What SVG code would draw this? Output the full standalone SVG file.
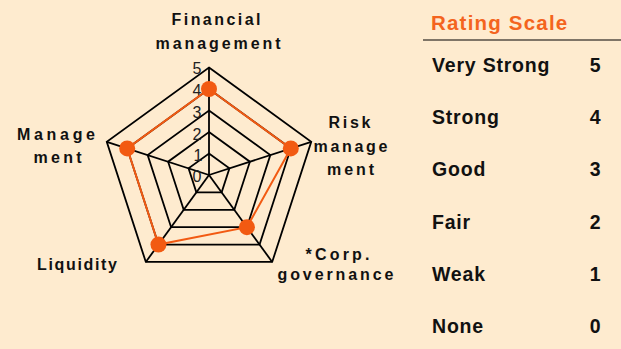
<svg xmlns="http://www.w3.org/2000/svg" width="621" height="349" viewBox="0 0 621 349">
<style>
.grid{fill:none;stroke:#000;stroke-width:1.8;stroke-linejoin:miter}
.axis{stroke:#000;stroke-width:1.8}
.data{fill:none;stroke:#F25A12;stroke-width:2}
.dot{fill:#F25A12}
.lbl{font-family:"Liberation Sans",Arial,sans-serif;font-weight:bold;font-size:16px;fill:#111;text-anchor:middle}
.tick{font-family:"Liberation Sans",Arial,sans-serif;font-size:16px;fill:#222;text-anchor:end}
.title{font-family:"Liberation Sans",Arial,sans-serif;font-weight:bold;font-size:20.5px;fill:#F4641E;letter-spacing:1.2px}
.row{font-family:"Liberation Sans",Arial,sans-serif;font-weight:bold;font-size:19.5px;fill:#111;letter-spacing:0.8px}
.num{font-family:"Liberation Sans",Arial,sans-serif;font-weight:bold;font-size:19.5px;fill:#111;text-anchor:end}
</style>
<rect width="621" height="349" fill="#FEEBCF"/>
<g id="grid">
<polygon class="grid" points="209,153.5 229.45,168.36 221.64,192.39 196.36,192.39 188.55,168.36"/>
<polygon class="grid" points="209,132 249.9,161.71 234.28,209.79 183.72,209.79 168.1,161.71"/>
<polygon class="grid" points="209,110.5 270.34,155.07 246.91,227.18 171.09,227.18 147.66,155.07"/>
<polygon class="grid" points="209,89 290.79,148.42 259.55,244.58 158.45,244.58 127.21,148.42"/>
<polygon class="grid" points="209,67.5 311.24,141.78 272.19,261.97 145.81,261.97 106.76,141.78"/>
<line class="axis" x1="209" y1="175" x2="209" y2="67.5"/>
<line class="axis" x1="209" y1="175" x2="311.24" y2="141.78"/>
<line class="axis" x1="209" y1="175" x2="272.19" y2="261.97"/>
<line class="axis" x1="209" y1="175" x2="145.81" y2="261.97"/>
<line class="axis" x1="209" y1="175" x2="106.76" y2="141.78"/>
</g>
<g id="ticks">
<text class="tick" x="201.5" y="74">5</text>
<text class="tick" x="201.5" y="95.5">4</text>
<text class="tick" x="201.5" y="117.5">3</text>
<text class="tick" x="201.5" y="139.5">2</text>
<text class="tick" x="202.5" y="161">1</text>
<text class="tick" x="201.5" y="181.5">0</text>
</g>
<g id="connectors">
<polygon class="data" points="209,89 290.79,148.42 246.91,227.18 158.45,244.58 127.21,148.42"/>
</g>
<g id="n-financial">
<circle class="dot" cx="209" cy="89" r="8"/>
<text class="lbl" x="216" y="25" textLength="89" lengthAdjust="spacing">Financial</text>
<text class="lbl" x="218" y="48.5" textLength="125" lengthAdjust="spacing">management</text>
</g>
<g id="n-risk">
<circle class="dot" cx="290.79" cy="148.42" r="8"/>
<text class="lbl" x="349.5" y="127.7" textLength="42" lengthAdjust="spacing">Risk</text>
<text class="lbl" x="350.5" y="151.7" textLength="74" lengthAdjust="spacing">manage</text>
<text class="lbl" x="350.5" y="175" textLength="47" lengthAdjust="spacing">ment</text>
</g>
<g id="n-corp">
<circle class="dot" cx="246.91" cy="227.18" r="8"/>
<text class="lbl" x="337.5" y="260" textLength="64" lengthAdjust="spacing">*Corp.</text>
<text class="lbl" x="335.5" y="280" textLength="116" lengthAdjust="spacing">governance</text>
</g>
<g id="n-liquidity">
<circle class="dot" cx="158.45" cy="244.58" r="8"/>
<text class="lbl" x="77" y="269.5" textLength="80" lengthAdjust="spacing">Liquidity</text>
</g>
<g id="n-management">
<circle class="dot" cx="127.21" cy="148.42" r="8"/>
<text class="lbl" x="56" y="140" textLength="78" lengthAdjust="spacing">Manage</text>
<text class="lbl" x="57.5" y="163.3" textLength="48" lengthAdjust="spacing">ment</text>
</g>
<g id="legend">
<text class="title" x="431" y="30">Rating Scale</text>
<line x1="423" y1="40" x2="621" y2="40" stroke="#000" stroke-width="1.2"/>
<text class="row" x="432" y="71.7">Very Strong</text><text class="num" x="600.5" y="71.7">5</text>
<text class="row" x="432" y="124">Strong</text><text class="num" x="600.5" y="124">4</text>
<text class="row" x="432" y="176.3">Good</text><text class="num" x="600.5" y="176.3">3</text>
<text class="row" x="432" y="228.6">Fair</text><text class="num" x="600.5" y="228.6">2</text>
<text class="row" x="432" y="281">Weak</text><text class="num" x="600.5" y="281">1</text>
<text class="row" x="432" y="333.3">None</text><text class="num" x="600.5" y="333.3">0</text>
</g>
</svg>
